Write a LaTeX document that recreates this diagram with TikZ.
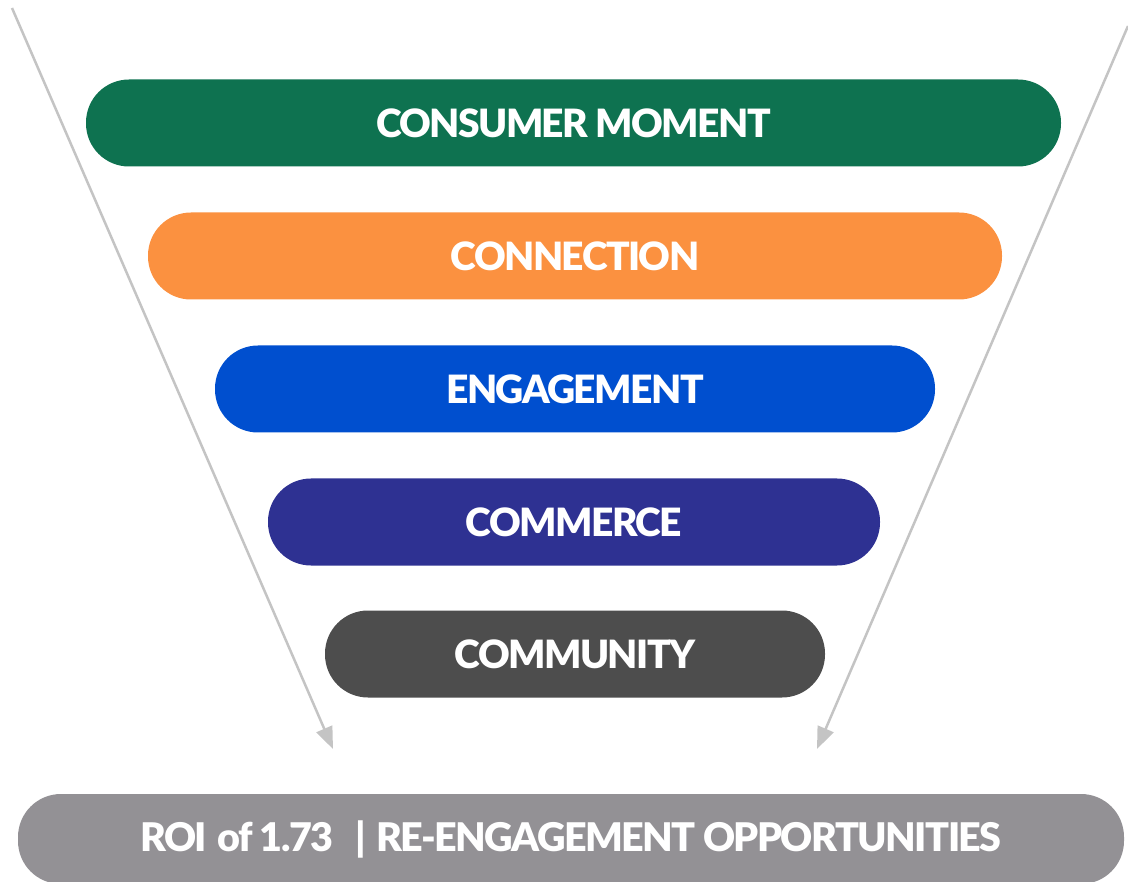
\documentclass[tikz,border=0pt]{standalone}
\usepackage{fontspec}
\setmainfont{Lato}[BoldFont={Lato Black}]
\usetikzlibrary{arrows.meta}
\definecolor{cgreen}{HTML}{0E7250}
\definecolor{corange}{HTML}{FB9140}
\definecolor{cblue}{HTML}{004FCF}
\definecolor{cnavy}{HTML}{2E3192}
\definecolor{cdark}{HTML}{4D4D4D}
\definecolor{cgray}{HTML}{939195}
\definecolor{cline}{HTML}{C4C4C4}
\newfontfamily\barfont{Lato Black}[LetterSpace=-4]
\tikzset{
  bar/.style={rounded corners=43pt, minimum height=87pt, inner sep=0pt,
    text=white, font=\barfont\fontsize{39}{39}\selectfont},
  funnelarrow/.style={draw=cline, line width=2.5pt,
    -{Triangle[length=22pt, width=17pt]}},
}
\begin{document}
\begin{tikzpicture}[x=1pt, y=-1pt]
\useasboundingbox (0,0) rectangle (1128,882);
\coordinate (ls) at (12,8);
\coordinate (le) at (333,749);
\coordinate (rs) at (1128,26);
\coordinate (re) at (817,749);
\draw[funnelarrow] (ls) -- (le);
\draw[funnelarrow] (rs) -- (re);
\node[bar, fill=cgreen, minimum width=975pt] (b1) at (573.5,123) {CONSUMER MOMENT};
\node[bar, fill=corange, minimum width=854pt] (b2) at (575,256) {CONNECTION};
\node[bar, fill=cblue, minimum width=720pt] (b3) at (575,389) {ENGAGEMENT};
\node[bar, fill=cnavy, minimum width=612pt] (b4) at (574,522) {COMMERCE};
\node[bar, fill=cdark, minimum width=500pt] (b5) at (575,654) {COMMUNITY};
\node[bar, fill=cgray, minimum width=1106pt, minimum height=90pt, font=\barfont\fontsize{39.5}{39.5}\selectfont] (b6) at (571,839) {ROI\hspace{10pt}of 1.73\hspace{22pt}|\hspace{10pt}RE-ENGAGEMENT OPPORTUNITIES};
\end{tikzpicture}
\end{document}
